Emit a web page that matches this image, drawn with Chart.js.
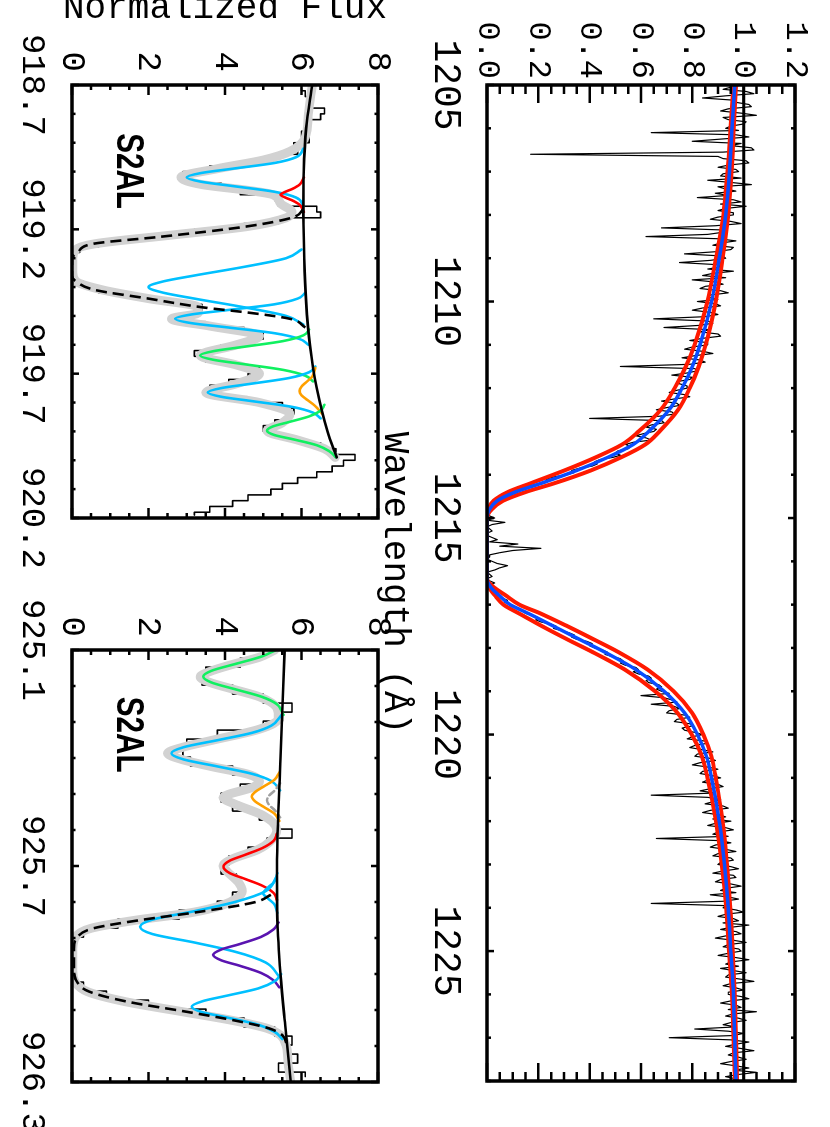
<!DOCTYPE html>
<html><head><meta charset="utf-8">
<script src="https://cdn.jsdelivr.net/npm/chart.js@4.4.0/dist/chart.umd.min.js"></script>
<style>
html,body{margin:0;padding:0;background:#fff;overflow:hidden;width:830px;height:1127px;}
#fig{position:absolute;left:0;top:0;width:1127px;height:830px;transform-origin:0 0;transform:translate(830px,0) rotate(90deg);}
#fig canvas{position:absolute;}
</style></head><body>
<div id="fig">
<canvas id="cB" width="630" height="430" style="left:-30px;top:400px"></canvas>
<canvas id="cC" width="567" height="430" style="left:560px;top:400px"></canvas>
<canvas id="cA" width="1127" height="460" style="left:0px;top:0px"></canvas>
</div>
<script>
// ================= DATA =================
// --- Big panel: Lyman-alpha ---
const bigWaveTicks = [1205, 1210, 1215, 1220, 1225];
const bigFluxTicks = [0.0, 0.2, 0.4, 0.6, 0.8, 1.0, 1.2];
const specStart = 1205.0, specStep = 0.05;
const specFlux = [
 0.99,0.95,0.92,1.01,1.04,0.93,0.84,0.96,0.97,1.02,1.03,0.94,0.91,0.99,1.05,0.92,0.94,1.01,1.00,0.95,
 0.93,0.98,0.64,0.97,1.02,0.91,0.80,0.99,0.95,1.03,1.04,0.92,0.17,0.90,0.92,1.01,1.02,0.94,0.90,0.97,
 0.98,0.92,0.91,0.99,0.86,0.95,1.03,0.90,0.93,0.97,0.89,0.94,0.82,0.96,0.99,0.91,1.01,0.93,0.90,0.96,
 0.96,0.90,0.87,0.95,0.99,0.89,0.68,0.93,0.92,0.86,0.62,0.90,0.97,0.91,0.88,0.96,0.95,0.89,0.77,0.92,
 0.93,0.87,0.75,0.90,0.91,0.86,0.96,0.88,0.84,0.93,0.80,0.89,0.92,0.85,0.83,0.91,0.94,0.87,0.86,0.90,
 0.82,0.89,0.91,0.84,0.80,0.87,0.90,0.85,0.65,0.86,0.88,0.83,0.69,0.87,0.83,0.90,0.91,0.84,0.79,0.86,
 0.86,0.80,0.77,0.84,0.88,0.81,0.76,0.83,0.85,0.79,0.52,0.81,0.82,0.78,0.72,0.80,0.79,0.74,0.75,0.78,
 0.78,0.74,0.71,0.77,0.79,0.73,0.68,0.74,0.75,0.70,0.66,0.72,0.73,0.67,0.40,0.68,0.69,0.64,0.62,0.66,
 0.65,0.61,0.58,0.62,0.64,0.57,0.54,0.56,0.55,0.51,0.50,0.52,0.49,0.44,0.42,0.43,0.41,0.36,0.33,0.34,
 0.31,0.26,0.23,0.24,0.22,0.17,0.15,0.13,0.12,0.09,0.07,0.06,0.05,0.03,0.02,0.03,0.02,0.01,0.00,0.01,
 0.03,0.00,0.07,0.02,0.00,0.01,0.02,0.00,0.00,0.02,0.04,0.01,0.12,0.05,0.21,0.10,0.05,0.01,0.01,0.00,
 0.02,0.04,0.08,0.05,0.03,0.00,0.01,0.02,0.00,0.01,0.03,0.00,0.01,0.02,0.03,0.04,0.05,0.06,0.08,0.07,
 0.09,0.11,0.13,0.14,0.15,0.18,0.20,0.19,0.21,0.25,0.27,0.26,0.29,0.32,0.34,0.33,0.35,0.39,0.41,0.40,
 0.42,0.45,0.47,0.46,0.49,0.52,0.53,0.52,0.54,0.58,0.59,0.57,0.59,0.63,0.64,0.62,0.63,0.67,0.68,0.66,
 0.68,0.71,0.60,0.69,0.72,0.74,0.64,0.73,0.75,0.71,0.70,0.77,0.79,0.74,0.73,0.79,0.80,0.76,0.77,0.81,
 0.84,0.80,0.78,0.85,0.86,0.81,0.79,0.84,0.88,0.82,0.81,0.87,0.89,0.83,0.80,0.86,0.90,0.84,0.83,0.88,
 0.91,0.86,0.84,0.90,0.92,0.87,0.83,0.89,0.64,0.86,0.91,0.88,0.85,0.92,0.94,0.87,0.84,0.90,0.93,0.88,
 0.95,0.89,0.86,0.93,0.96,0.90,0.88,0.94,0.66,0.91,0.95,0.89,0.87,0.93,0.97,0.90,0.88,0.95,0.96,0.91,
 0.90,0.95,0.98,0.92,0.88,0.96,0.97,0.91,0.89,0.95,0.99,0.93,0.91,0.97,0.87,0.94,0.98,0.92,0.64,0.93,
 0.92,0.97,1.00,0.93,0.90,0.96,0.98,0.92,1.02,0.95,0.91,0.97,0.99,0.93,0.89,0.96,1.01,0.94,0.92,0.98,
 0.99,0.94,0.90,0.97,1.02,0.95,0.93,0.98,0.91,0.96,1.01,0.94,0.93,0.99,1.04,0.95,0.92,0.97,1.00,0.94,
 0.94,0.99,1.02,0.95,0.91,0.97,0.99,0.94,1.05,0.96,0.93,0.98,1.01,0.95,0.92,0.97,0.81,0.94,1.00,0.96,
 0.71,0.95,1.02,0.97,0.93,0.99,1.04,0.96,0.94,0.98,1.01,0.95,0.91,0.97,1.02,0.96,1.05,0.98,0.93,0.97,
 0.98];
const fitWave  = [1205.0,1206.0,1207.0,1208.0,1209.0,1210.0,1211.0,1211.5,1212.0,1212.5,1213.0,1213.3,1213.6,1213.9,1214.2,1214.4,1214.6,1214.8,1215.0,1216.4,1216.6,1216.8,1217.0,1217.2,1217.5,1217.8,1218.1,1218.5,1219.0,1219.5,1220.0,1220.5,1221.0,1222.0,1223.0,1224.0,1225.0,1226.0,1227.0,1228.0];
const fitBest  = [0.965,0.955,0.945,0.930,0.905,0.875,0.830,0.800,0.760,0.710,0.630,0.570,0.470,0.350,0.210,0.110,0.040,0.010,0.000,0.000,0.015,0.050,0.090,0.160,0.260,0.360,0.460,0.580,0.690,0.770,0.820,0.855,0.875,0.905,0.925,0.940,0.950,0.960,0.965,0.970];
const fitUpper = [0.970,0.961,0.953,0.940,0.918,0.891,0.852,0.825,0.790,0.745,0.672,0.617,0.522,0.405,0.261,0.150,0.063,0.019,0.000,0.000,0.027,0.076,0.126,0.207,0.314,0.415,0.513,0.626,0.727,0.799,0.843,0.874,0.891,0.918,0.935,0.948,0.957,0.965,0.970,0.974];
const fitLower = [0.960,0.949,0.937,0.921,0.892,0.859,0.809,0.775,0.731,0.677,0.591,0.527,0.423,0.302,0.169,0.081,0.026,0.005,0.000,0.000,0.008,0.033,0.064,0.124,0.215,0.312,0.413,0.537,0.655,0.742,0.798,0.837,0.859,0.892,0.915,0.932,0.943,0.955,0.960,0.966];
const bigContWave = [1205, 1228];
const bigContFlux = [1.0, 1.0];

// --- Small panels common ---
const smallFluxTicks = [0, 2, 4, 6, 8];
const panelLabel = 'S2AL';

// --- Left small panel (918.7-920.2) ---
const leftWaveTicks = [918.7, 919.2, 919.7, 920.2];
const leftDataStart = 918.71, leftDataStep = 0.02;
const leftDataFlux = [
 6.0,6.1,6.3,6.2,6.6,6.5,6.15,6.1,6.0,6.2,
 5.8,5.9,5.3,4.6,3.6,2.9,3.0,3.9,4.4,5.3,
 5.4,6.4,6.5,5.4,4.5,3.2,1.8,0.7,0.2,0.05,
 0.0,0.1,0.0,0.05,0.3,0.7,1.6,2.5,3.4,3.2,
 2.8,3.5,4.5,5.0,4.6,3.9,3.2,3.5,4.3,4.9,
 4.6,4.1,3.6,3.7,4.6,5.5,5.8,5.6,5.3,5.0,
 5.3,5.9,6.5,6.9,7.4,7.1,6.8,6.4,5.9,5.5,
 5.2,4.6,4.2,3.6,3.2];
const leftContWave = [918.70,918.85,919.00,919.15,919.30,919.45,919.60,919.75,919.90,919.99];
const leftContFlux = [6.28,6.12,6.06,6.05,6.07,6.12,6.22,6.40,6.68,6.92];
const leftTotWave = [918.70,918.80,918.88,918.93,918.96,918.99,919.02,919.045,919.065,919.08,919.11,919.14,919.16,919.19,919.22,919.25,919.27,919.30,919.35,919.38,919.41,919.44,919.47,919.49,919.51,919.535,919.57,919.60,919.637,919.67,919.70,919.735,919.765,919.80,919.84,919.87,919.898,919.93,919.96,919.99];
const leftTotFlux = [6.28,6.18,6.10,5.70,5.00,3.80,2.85,3.40,4.60,5.25,5.45,5.75,5.60,4.60,2.60,0.60,0.10,0.02,0.02,0.10,0.80,2.00,3.30,3.30,2.60,3.60,4.90,4.30,3.35,4.30,4.90,4.30,3.50,4.90,5.70,5.50,5.10,5.90,6.60,6.88];
const leftHIWave = [919.13,919.158,919.19,919.226,919.25,919.28,919.30,919.36,919.38,919.41,919.44,919.47,919.49,919.51,919.54];
const leftHIFlux = [6.05,5.79,4.57,2.30,0.56,0.15,0.0,0.0,0.1,0.6,2.0,3.4,4.7,5.7,6.1];
const leftB1Wave = [918.92,918.95,918.97,918.99,919.005,919.02,919.035,919.05,919.07,919.09,919.12];
const leftB1Flux = [6.05,5.86,5.30,4.20,3.37,3.00,3.37,4.20,5.30,5.86,6.05];
const leftR1Wave = [919.02,919.045,919.06,919.07,919.08,919.09,919.10,919.115,919.14];
const leftR1Flux = [6.06,5.95,5.76,5.58,5.45,5.58,5.76,5.95,6.06];
const leftB2Wave = [919.27,919.30,919.33,919.36,919.38,919.40,919.42,919.44,919.47,919.50,919.53];
const leftB2Flux = [6.00,5.60,4.50,3.20,2.40,2.00,2.40,3.20,4.50,5.60,6.05];
const leftB3Wave = [919.42,919.44,919.46,919.48,919.495,919.51,919.525,919.54,919.56,919.58,919.60];
const leftB3Flux = [6.10,5.90,5.28,4.05,3.12,2.70,3.12,4.08,5.30,5.95,6.18];
const leftG1Wave = [919.547,919.567,919.587,919.607,919.622,919.637,919.652,919.667,919.687,919.707,919.727];
const leftG1Flux = [6.20,6.05,5.52,4.49,3.70,3.35,3.70,4.49,5.52,6.10,6.30];
const leftB4Wave = [919.675,919.695,919.715,919.735,919.75,919.765,919.78,919.795,919.815,919.835,919.855];
const leftB4Flux = [6.36,6.20,5.68,4.68,3.90,3.55,3.90,4.70,5.75,6.30,6.50];
const leftO1Wave = [919.68,919.71,919.73,919.745,919.76,919.775,919.79,919.81,919.84];
const leftO1Flux = [6.36,6.28,6.12,6.00,5.95,6.00,6.14,6.34,6.55];
const leftG2Wave = [919.808,919.828,919.848,919.868,919.883,919.898,919.913,919.928,919.948,919.968,919.99];
const leftG2Flux = [6.60,6.50,6.20,5.66,5.25,5.10,5.30,5.80,6.40,6.72,6.90];

// --- Right small panel (925.1-926.3) ---
const rightWaveTicks = [925.1, 925.7, 926.3];
const rightDataStart = 925.11, rightDataStep = 0.025;
const rightDataFlux = [
 5.0,4.4,3.5,3.4,4.2,5.0,5.75,5.5,5.0,3.8,
 3.0,2.9,3.1,4.2,4.8,4.4,3.9,4.2,4.9,5.3,
 5.75,5.1,4.6,4.1,3.9,4.3,4.45,4.2,3.8,2.8,
 1.2,0.3,0.05,0.0,0.1,0.0,0.1,0.3,0.9,2.0,
 3.5,4.5,5.3,5.75,5.6,5.9,5.4,6.1];
const rightContWave = [925.10,925.40,925.70,925.85,926.00,926.15,926.30];
const rightContFlux = [5.56,5.45,5.36,5.37,5.45,5.58,5.72];
const rightTotWave = [925.10,925.12,925.14,925.16,925.175,925.19,925.21,925.23,925.26,925.29,925.32,925.35,925.37,925.387,925.405,925.425,925.445,925.465,925.48,925.51,925.53,925.56,925.60,925.63,925.655,925.68,925.70,925.72,925.745,925.77,925.79,925.81,925.83,925.85,925.873,925.896,925.93,925.99,926.025,926.049,926.077,926.105,926.128,926.151,926.17,926.20,926.25,926.30];
const rightTotFlux = [5.30,4.90,4.20,3.60,3.35,3.60,4.25,4.90,5.35,5.40,4.90,3.70,2.90,2.50,2.90,3.70,4.60,4.90,4.75,3.95,4.30,5.00,5.35,5.20,4.85,4.20,3.95,4.10,4.35,4.45,4.30,3.90,3.10,1.70,0.50,0.10,0.02,0.02,0.10,0.40,1.40,2.90,4.15,5.10,5.45,5.60,5.65,5.72];
const rightHIWave = [925.78,925.80,925.827,925.85,925.873,925.896,925.93,925.99,926.025,926.049,926.077,926.105,926.128,926.151,926.17,926.20];
const rightHIFlux = [5.2,4.8,3.35,1.8,0.56,0.15,0.05,0.05,0.15,0.45,1.45,3.0,4.2,5.15,5.5,5.62];
const rightG1Wave = [925.10,925.118,925.138,925.158,925.174,925.19,925.21,925.23,925.25,925.28];
const rightG1Flux = [5.33,4.96,4.30,3.64,3.43,3.64,4.30,4.96,5.35,5.53];
const rightBaWave = [925.28,925.31,925.33,925.35,925.37,925.387,925.404,925.424,925.444,925.464,925.49];
const rightBaFlux = [5.48,5.21,4.71,3.83,2.92,2.60,2.92,3.83,4.71,5.21,5.44];
const rightOWave = [925.44,925.46,925.48,925.495,925.507,925.52,925.535,925.555,925.575];
const rightOFlux = [5.42,5.30,5.00,4.78,4.70,4.78,5.00,5.30,5.42];
const rightGsWave = [925.47,925.49,925.505,925.517,925.53,925.545,925.565];
const rightGsFlux = [5.44,5.30,5.15,5.10,5.15,5.30,5.44];
const rightRWave = [925.61,925.63,925.65,925.67,925.685,925.702,925.72,925.735,925.755,925.775,925.795];
const rightRFlux = [5.36,5.27,4.98,4.50,4.13,3.96,4.13,4.50,4.98,5.27,5.36];
const rightBbWave = [925.72,925.745,925.76,925.776,925.79,925.805,925.83];
const rightBbFlux = [5.37,5.28,5.12,5.00,5.12,5.28,5.37];
const rightBcWave = [925.73,925.77,925.80,925.825,925.849,925.869,925.889,925.913,925.938,925.968,926.008];
const rightBcFlux = [5.35,5.06,4.26,3.22,2.10,1.78,2.10,3.22,4.26,5.06,5.42];
const rightPWave = [925.857,925.877,925.897,925.917,925.932,925.947,925.962,925.977,925.997,926.017,926.037];
const rightPFlux = [5.40,5.26,4.94,4.38,3.90,3.69,3.90,4.38,4.94,5.26,5.42];
const rightBdWave = [926.00,926.02,926.04,926.06,926.076,926.091,926.106,926.121,926.141,926.161,926.181];
const rightBdFlux = [5.47,5.30,4.87,4.06,3.40,3.13,3.40,4.06,4.87,5.30,5.50];

// ================= STYLE / HELPERS =================
const MONO = '"Liberation Mono","DejaVu Sans Mono",monospace';
const C = {blue:'#00c0ff', red:'#ff0000', green:'#10f060', orange:'#ffa000', purple:'#5a14b0', gray:'#d2d2d2', fitBlue:'#0a4dff', fitRed:'#ff1a00', thinGray:'#a0a0a0'};

function pts(xs, ys){ return xs.map((x,i)=>({x:x, y:ys[i]})); }
function grid(start, step, ys){ return ys.map((y,i)=>({x:+(start+i*step).toFixed(4), y:y})); }
function ln(data, color, width, extra){
  return Object.assign({data:data, borderColor:color, backgroundColor:color, borderWidth:width, pointRadius:0, fill:false, tension:0, clip:0, borderCapStyle:'round', borderJoinStyle:'round'}, extra||{});
}
const smooth = {cubicInterpolationMode:'monotone'};

const frameTicks = {
  id:'frameTicks',
  afterDatasetsDraw(chart, args, o){
    const ctx = chart.ctx, a = chart.chartArea, sx = chart.scales.x, sy = chart.scales.y;
    ctx.save();
    ctx.strokeStyle = '#000'; ctx.lineCap = 'butt'; ctx.lineWidth = o.tickWidth;
    ctx.beginPath();
    const xt = (v,len)=>{const p=sx.getPixelForValue(v); ctx.moveTo(p,a.bottom); ctx.lineTo(p,a.bottom-len); ctx.moveTo(p,a.top); ctx.lineTo(p,a.top+len);};
    const yt = (v,len)=>{const p=sy.getPixelForValue(v); ctx.moveTo(a.left,p); ctx.lineTo(a.left+len,p); ctx.moveTo(a.right,p); ctx.lineTo(a.right-len,p);};
    let n = Math.round((sx.max - sx.min)/o.xMinorStep);
    for(let i=0;i<=n;i++) xt(sx.min + i*o.xMinorStep, o.xMinorLen);
    o.xMajor.forEach(v=>xt(v, o.xMajorLen));
    n = Math.round((sy.max - sy.min)/o.yMinorStep);
    for(let i=0;i<=n;i++) yt(sy.min + i*o.yMinorStep, o.yMinorLen);
    o.yMajor.forEach(v=>yt(v, o.yMajorLen));
    ctx.stroke();
    ctx.lineWidth = o.frameWidth;
    ctx.strokeRect(a.left, a.top, a.width, a.height);
    if (o.label){
      const px = sx.getPixelForValue(o.label.x), py = sy.getPixelForValue(o.label.y);
      ctx.translate(px, py); ctx.scale(0.78, 1);
      ctx.fillStyle = '#000'; ctx.font = 'bold 38px "Liberation Sans", Arial, sans-serif';
      ctx.textAlign = 'left'; ctx.textBaseline = 'middle';
      ctx.fillText(o.label.text, 0, 0);
    }
    ctx.restore();
  }
};
Chart.register(frameTicks);

function xScale(min, max, ticks, fmt, h, tickPad, fontSize, title){
  return {type:'linear', min:min, max:max, grid:{display:false, drawTicks:false}, border:{display:false},
    afterBuildTicks: s=>{ s.ticks = ticks.map(v=>({value:v})); },
    afterFit: s=>{ s.height = h; s.paddingLeft = 0; s.paddingRight = 0; },
    ticks:{autoSkip:false, maxRotation:0, minRotation:0, padding:tickPad, color:'#000', font:{family:MONO, size:fontSize}, callback:fmt},
    title: title || {display:false}};
}
function yScale(min, max, ticks, fmt, w, tickPad, fontSize, title){
  return {type:'linear', min:min, max:max, grid:{display:false, drawTicks:false}, border:{display:false},
    afterBuildTicks: s=>{ s.ticks = ticks.map(v=>({value:v})); },
    afterFit: s=>{ s.width = w; s.paddingTop = 0; s.paddingBottom = 0; },
    ticks:{autoSkip:false, padding:tickPad, color:'#000', font:{family:MONO, size:fontSize}, callback:fmt},
    title: title || {display:false}};
}
function baseOpts(padding, scales, ft){
  return {responsive:false, animation:false, devicePixelRatio:1, events:[],
    layout:{padding:padding, autoPadding:false},
    plugins:{legend:{display:false}, tooltip:{enabled:false}, frameTicks:ft},
    scales:scales};
}

// ================= BIG PANEL =================
new Chart(document.getElementById('cA'), {
  type:'line',
  data:{datasets:[
    ln(pts(bigContWave, bigContFlux), '#000', 3),
    ln(pts(fitWave, fitBest), C.fitBlue, 3.5, smooth),
    ln(pts(fitWave, fitUpper), C.fitRed, 4, smooth),
    ln(pts(fitWave, fitLower), C.fitRed, 4, smooth),
    ln(grid(specStart, specStep, specFlux), '#000', 1.2)
  ]},
  options: baseOpts({left:0, right:46, top:35, bottom:0}, {
    x: xScale(1205, 1228, bigWaveTicks, v=>String(v), 117, 19, 38,
       {display:true, text:'Wavelength (Å)', color:'#000', font:{family:MONO, size:36}, padding:{top:0, bottom:3}}),
    y: yScale(0, 1.2, bigFluxTicks, v=>v.toFixed(1), 85, 6, 32)
  }, {xMajor:bigWaveTicks, xMinorStep:1, xMajorLen:7, xMinorLen:4, yMajor:bigFluxTicks, yMinorStep:0.05, yMajorLen:18, yMinorLen:9, tickWidth:2.5, frameWidth:3.5})
});

// ================= LEFT SMALL PANEL =================
new Chart(document.getElementById('cB'), {
  type:'line',
  data:{datasets:[
    ln(pts(leftContWave, leftContFlux), '#000', 2.6, smooth),
    ln(pts(leftHIWave, leftHIFlux), '#000', 2.6, Object.assign({borderDash:[11,6], borderCapStyle:'butt'}, smooth)),
    ln(pts(leftG2Wave, leftG2Flux), C.green, 2.6, smooth),
    ln(pts(leftO1Wave, leftO1Flux), C.orange, 2.6, smooth),
    ln(pts(leftB4Wave, leftB4Flux), C.blue, 2.6, smooth),
    ln(pts(leftG1Wave, leftG1Flux), C.green, 2.6, smooth),
    ln(pts(leftB3Wave, leftB3Flux), C.blue, 2.6, smooth),
    ln(pts(leftB2Wave, leftB2Flux), C.blue, 2.6, smooth),
    ln(pts(leftR1Wave, leftR1Flux), C.red, 2.6, smooth),
    ln(pts(leftB1Wave, leftB1Flux), C.blue, 2.6, smooth),
    ln(pts(leftTotWave, leftTotFlux), C.gray, 9, smooth),
    ln(grid(leftDataStart, leftDataStep, leftDataFlux), '#000', 1.6, {stepped:'middle'})
  ]},
  options: baseOpts({left:0, right:82, top:52, bottom:0}, {
    x: xScale(918.7, 920.2, leftWaveTicks, v=>v.toFixed(1), 72, 20, 34),
    y: yScale(0, 8, smallFluxTicks, v=>String(v), 115, 13, 34,
       {display:true, text:'Normalized Flux', color:'#000', font:{family:MONO, size:36}, padding:{top:17, bottom:0}})
  }, {xMajor:leftWaveTicks, xMinorStep:0.1, xMajorLen:7, xMinorLen:3.5, yMajor:smallFluxTicks, yMinorStep:0.5, yMajorLen:10, yMinorLen:5, tickWidth:2.5, frameWidth:3.5,
      label:{text:panelLabel, x:918.867, y:1.46}})
});

// ================= RIGHT SMALL PANEL =================
new Chart(document.getElementById('cC'), {
  type:'line',
  data:{datasets:[
    ln(pts(rightContWave, rightContFlux), '#000', 2.6, smooth),
    ln(pts(rightHIWave, rightHIFlux), '#000', 2.6, Object.assign({borderDash:[11,6], borderCapStyle:'butt'}, smooth)),
    ln(pts(rightBdWave, rightBdFlux), C.blue, 2.6, smooth),
    ln(pts(rightPWave, rightPFlux), C.purple, 2.6, smooth),
    ln(pts(rightBcWave, rightBcFlux), C.blue, 2.6, smooth),
    ln(pts(rightBbWave, rightBbFlux), C.blue, 2.6, smooth),
    ln(pts(rightRWave, rightRFlux), C.red, 2.6, smooth),
    ln(pts(rightGsWave, rightGsFlux), C.thinGray, 2.6, Object.assign({borderDash:[6,4]}, smooth)),
    ln(pts(rightOWave, rightOFlux), C.orange, 2.6, smooth),
    ln(pts(rightBaWave, rightBaFlux), C.blue, 2.6, smooth),
    ln(pts(rightG1Wave, rightG1Flux), C.green, 2.6, smooth),
    ln(pts(rightTotWave, rightTotFlux), C.gray, 9, smooth),
    ln(grid(rightDataStart, rightDataStep, rightDataFlux), '#000', 1.6, {stepped:'middle'})
  ]},
  options: baseOpts({left:0, right:45, top:52, bottom:0}, {
    x: xScale(925.1, 926.3, rightWaveTicks, v=>v.toFixed(1), 72, 20, 34),
    y: yScale(0, 8, smallFluxTicks, v=>String(v), 90, 13, 34)
  }, {xMajor:rightWaveTicks, xMinorStep:0.1, xMajorLen:7, xMinorLen:3.5, yMajor:smallFluxTicks, yMinorStep:0.5, yMajorLen:10, yMinorLen:5, tickWidth:2.5, frameWidth:3.5,
      label:{text:panelLabel, x:925.23, y:1.46}})
});
</script>
</body></html>
